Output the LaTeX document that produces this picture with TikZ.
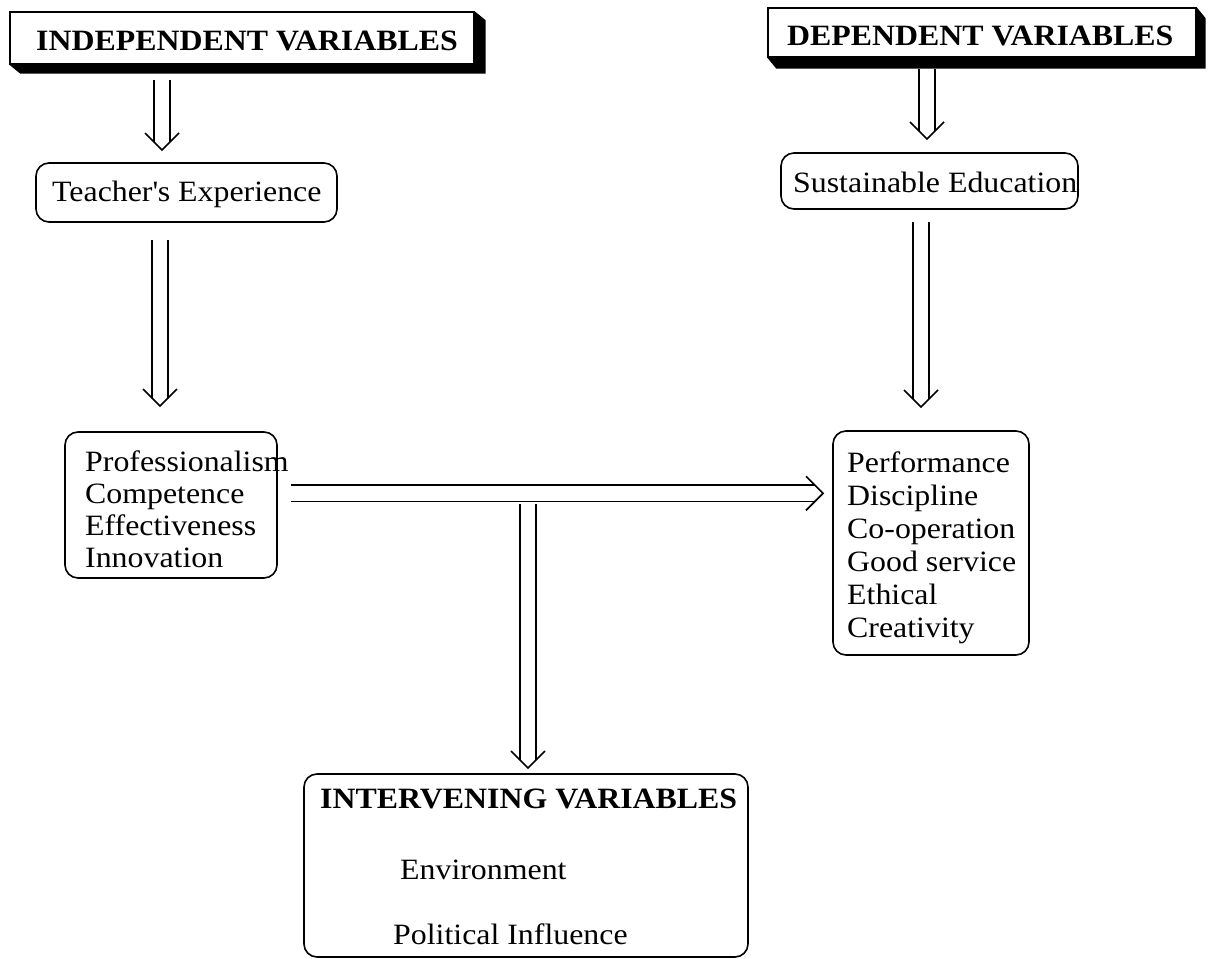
\documentclass[tikz,border=0pt]{standalone}
\usepackage{fontspec}
\setmainfont[FakeStretch=1.08]{Liberation Serif}
\usetikzlibrary{decorations.markings,backgrounds}
\begin{document}
\begin{tikzpicture}[x=1pt,y=-1pt,
  every node/.style={font=\fontsize{29.5}{33}\selectfont, inner sep=0pt},
  rbox/.style={draw, line width=1.6pt, rounded corners=13pt},
  sbox/.style={draw, line width=1.4pt, fill=white},
  lbl/.style={anchor=base west},
  ttl/.style={anchor=base west, font=\fontsize{29.5}{33}\selectfont\bfseries},
  dblarrow/.style={decoration={markings, mark=at position 1 with {
      \draw[line width=1.7pt, miter limit=20] (-17pt,17pt) -- (0pt,0pt) -- (-17pt,-17pt);
      \draw[line width=1.7pt] (-\pgfdecoratedpathlength,8.3pt) -- (-8.3pt,8.3pt);
      \draw[line width=1.7pt] (-\pgfdecoratedpathlength,-8.3pt) -- (-8.3pt,-8.3pt);
    }}, postaction=decorate}
]
\useasboundingbox (0,0) rectangle (1212,958);

% shadowed title boxes
\node[sbox, minimum width=464pt, minimum height=52pt] (indep) at (242,38) {};
\node[sbox, minimum width=428pt, minimum height=49pt] (dep) at (982,32.5) {};
\begin{pgfonlayer}{background}
  \fill (indep.north east) -- ++(11,9) -- ([shift={(11,9)}]indep.south east)
        -- ([shift={(11,9)}]indep.south west) -- (indep.south west) -- cycle;
  \fill (dep.north east) -- ++(9,11) -- ([shift={(9,11)}]dep.south east)
        -- ([shift={(9,11)}]dep.south west) -- (dep.south west) -- cycle;
\end{pgfonlayer}
\node[ttl] (indeptxt) at (36,51) {INDEPENDENT VARIABLES};
\node[ttl] (deptxt) at (787,46) {DEPENDENT VARIABLES};

% rounded boxes
\node[rbox, minimum width=301pt, minimum height=59pt] (teach) at (186.5,192.5) {};
\node[rbox, minimum width=297pt, minimum height=56pt] (sust) at (929.5,181) {};
\node[rbox, minimum width=212pt, minimum height=146pt] (prof) at (171,505) {};
\node[rbox, minimum width=196pt, minimum height=224pt] (perf) at (931,543) {};
\node[rbox, minimum width=444pt, minimum height=183pt] (interv) at (526,865.5) {};

% texts
\node[lbl] (t1) at (52,201) {Teacher\textquotesingle s Experience};
\node[lbl] (t2) at (793,192) {Sustainable Education};
\node[lbl] (p1) at (85,471) {Professionalism};
\node[lbl] (p2) at (85,503) {Competence};
\node[lbl] (p3) at (85,535) {Effectiveness};
\node[lbl] (p4) at (85,567) {Innovation};
\node[lbl] (q1) at (847,472) {Performance};
\node[lbl] (q2) at (847,505) {Discipline};
\node[lbl] (q3) at (847,538) {Co-operation};
\node[lbl] (q4) at (847,571) {Good service};
\node[lbl] (q5) at (847,604) {Ethical};
\node[lbl] (q6) at (847,637) {Creativity};
\node[ttl] (ivt) at (320,808) {INTERVENING VARIABLES};
\node[lbl] (iv1) at (400,879) {Environment};
\node[lbl] (iv2) at (393,944) {Political Influence};

% arrow end points
\coordinate (a1s) at (162,80);  \coordinate (a1e) at (162,150);
\coordinate (a2s) at (160,240); \coordinate (a2e) at (160,406);
\coordinate (a3s) at (927,69);  \coordinate (a3e) at (927,139);
\coordinate (a4s) at (921,222); \coordinate (a4e) at (921,407);
\coordinate (a5s) at (291,493.3); \coordinate (a5e) at (823,493.3);
\coordinate (a6s) at (528,504); \coordinate (a6e) at (528,768);

\path[dblarrow] (a1s) -- (a1e);
\path[dblarrow] (a2s) -- (a2e);
\path[dblarrow] (a3s) -- (a3e);
\path[dblarrow] (a4s) -- (a4e);
\path[dblarrow] (a5s) -- (a5e);
\path[dblarrow] (a6s) -- (a6e);
\end{tikzpicture}
\end{document}
